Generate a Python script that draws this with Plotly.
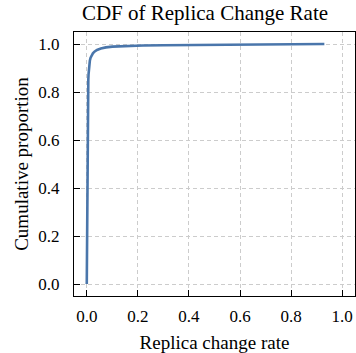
import plotly.graph_objects as go

# Data
rate = [0.0, 0.001, 0.002, 0.003, 0.004, 0.005, 0.006, 0.007, 0.008, 0.010,
        0.012, 0.015, 0.019, 0.024, 0.030, 0.040, 0.055, 0.075, 0.10, 0.13,
        0.17, 0.22, 0.30, 0.40, 0.50, 0.60, 0.70, 0.80, 0.93]
cum_prop = [0.0, 0.25, 0.48, 0.65, 0.75, 0.81, 0.85, 0.875, 0.895, 0.915,
            0.93, 0.943, 0.953, 0.961, 0.968, 0.975, 0.981, 0.986, 0.989, 0.991,
            0.993, 0.994, 0.995, 0.996, 0.997, 0.998, 0.9985, 0.999, 1.0]
tick_vals = [0.0, 0.2, 0.4, 0.6, 0.8, 1.0]
tick_text = ["0.0", "0.2", "0.4", "0.6", "0.8", "1.0"]

FONT = "Liberation Serif"

fig = go.Figure()
fig.add_trace(go.Scatter(x=rate, y=cum_prop, mode="lines",
                         line=dict(color="#4a76ab", width=2.6),
                         showlegend=False))

axis_common = dict(
    range=[-0.05, 1.05], tickvals=tick_vals, ticktext=tick_text,
    showline=True, linecolor="black", linewidth=1.3, mirror=True,
    ticks="inside", ticklen=6, tickwidth=1.3, tickcolor="black",
    showgrid=True, gridcolor="#cccccc", gridwidth=1, griddash="4px,3px",
    zeroline=False, tickfont=dict(family=FONT, size=17, color="black"),
)

fig.update_xaxes(**axis_common, ticklabelstandoff=4,
                 title=dict(text="Replica change rate",
                            font=dict(family=FONT, size=19, color="black"),
                            standoff=12))
fig.update_yaxes(**axis_common, ticklabelstandoff=10,
                 title=dict(text="Cumulative proportion",
                            font=dict(family=FONT, size=19, color="black"),
                            standoff=4))

fig.update_layout(
    width=356, height=353,
    margin=dict(l=74, r=1, t=32, b=57, autoexpand=False),
    paper_bgcolor="white", plot_bgcolor="white",
    title=dict(text="CDF of Replica Change Rate",
               font=dict(family=FONT, size=21, color="black"),
               x=205 / 356, xref="container", xanchor="center",
               y=1 - 5 / 353, yref="container", yanchor="top"),
)

fig.write_html("out.html")
